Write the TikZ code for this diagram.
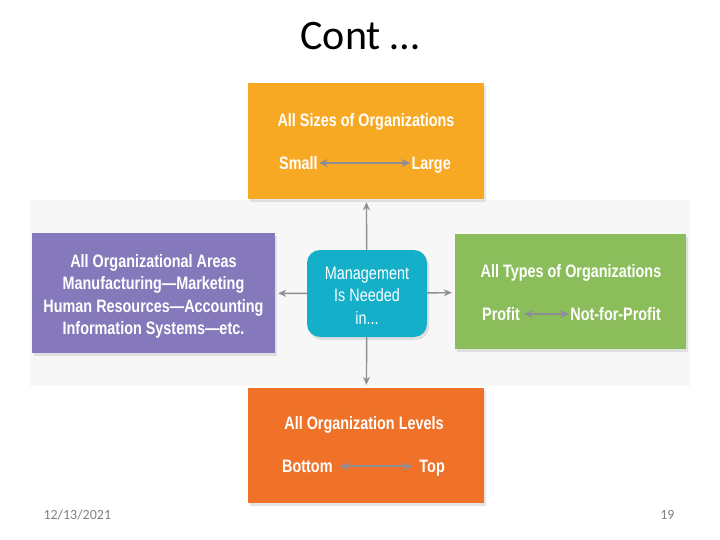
\documentclass[tikz,border=0pt]{standalone}
\usepackage{fontspec}
\setmainfont{Carlito}
\newfontfamily\condfont[FakeStretch=0.8,Ligatures=TeX]{Liberation Sans}
\usetikzlibrary{arrows.meta, positioning, shadows}
\definecolor{mgmtAmber}{HTML}{F8A923}
\definecolor{mgmtPurple}{HTML}{8579BC}
\definecolor{mgmtTeal}{HTML}{14AFC8}
\definecolor{mgmtGreen}{HTML}{8BBE5B}
\definecolor{mgmtOrange}{HTML}{F07128}
\definecolor{mgmtArrow}{HTML}{8E8E96}
\definecolor{mgmtPanel}{HTML}{F7F7F7}
\begin{document}
\begin{tikzpicture}[x=1pt,y=-1pt,
  areabox/.style={draw=none,inner sep=0pt,drop shadow={shadow xshift=2pt,shadow yshift=-3pt,opacity=0.2}},
  boxtext/.style={text=white,font=\condfont\bfseries\fontsize{18}{20}\selectfont,inner sep=1pt},
  hub/.style={arrows={-Stealth[length=8pt,width=7pt]},draw=mgmtArrow,line width=1.4pt,shorten >=3pt},
  span/.style={arrows={Stealth[length=9pt,width=8pt]-Stealth[length=9pt,width=8pt]},draw=mgmtArrow,line width=1.8pt}]
\useasboundingbox[fill=white] (0,0) rectangle (720,540);
\fill[mgmtPanel] (30,200) rectangle (690,386);
\node[font=\fontsize{42}{46}\selectfont] (title) at (360,36) {Cont …};
% the five boxes
\node[areabox,fill=mgmtAmber,minimum width=236pt,minimum height=116pt] (sizes) at (366,141) {};
\node[areabox,fill=mgmtPurple,minimum width=243pt,minimum height=120pt] (areas) at (153.5,293) {};
\node[areabox,fill=mgmtGreen,minimum width=231pt,minimum height=115pt] (types) at (570.5,291.5) {};
\node[areabox,fill=mgmtOrange,minimum width=236pt,minimum height=115pt] (levels) at (366,445.5) {};
\node[areabox,fill=mgmtTeal,rounded corners=13pt,minimum width=120pt,minimum height=87pt] (mgmt) at (367,293.5) {};
\node[text=white,align=center,font=\condfont\fontsize{18}{22.5}\selectfont] (mgmtText) at (367,295.5) {Management\\Is Needed\\in...};
% connectors from the middle
\draw[hub] (mgmt) -- (sizes);
\draw[hub] (mgmt) -- (areas);
\draw[hub] (mgmt) -- (types);
\draw[hub] (mgmt) -- (levels);
% top box
\node[boxtext,anchor=base] (sizesHead) at (366,126.5) {All Sizes of Organizations};
\node[boxtext,anchor=base west] (small) at (278,169.5) {Small};
\node[boxtext,anchor=base east] (large) at (452,169.5) {Large};
\draw[span] (small.east) -- (small.east -| large.west);
% left box
\node[boxtext,align=center,font=\condfont\bfseries\fontsize{18}{22.5}\selectfont] (areasText) at (153.5,296.5)
  {All Organizational Areas\\Manufacturing---Marketing\\Human Resources---Accounting\\Information Systems---etc.};
% right box
\node[boxtext,anchor=base] (typesHead) at (571,277.5) {All Types of Organizations};
\node[boxtext,anchor=base west] (profit) at (481,320.5) {Profit};
\node[boxtext,anchor=base east] (nonprofit) at (662,320.5) {Not-for-Profit};
\draw[span] ([xshift=3pt]profit.east) -- (profit.east -| nonprofit.west);
% bottom box
\node[boxtext,anchor=base west] (bottom) at (281,472.5) {Bottom};
\node[boxtext,anchor=base east] (top) at (446,472.5) {Top};
\node[boxtext,anchor=base] (levelsHead) at (364,429.5) {All Organization Levels};
\draw[span] ([xshift=6pt]bottom.east) -- ([xshift=-6pt]bottom.east -| top.west);
% footer
\node[text=black!50,font=\fontsize{14}{16}\selectfont,anchor=west] (date) at (40,515) {12/13/2021};
\node[text=black!50,font=\fontsize{14}{16}\selectfont,anchor=east] (page) at (678,515) {19};
\end{tikzpicture}
\end{document}
